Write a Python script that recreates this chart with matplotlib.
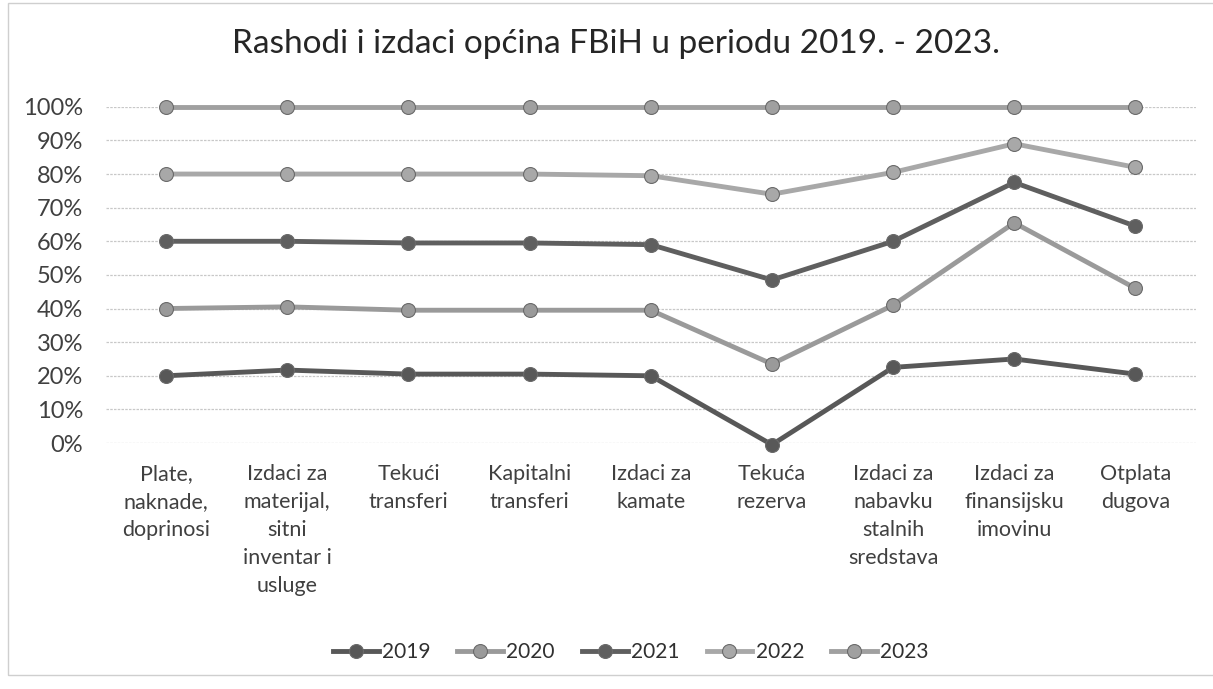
import numpy as np
import matplotlib.pyplot as plt
from matplotlib.patches import Rectangle
from matplotlib.ticker import PercentFormatter

plt.rcParams['font.family'] = ['Lato', 'DejaVu Sans']

# Categories (x axis)
categories = [
    "Plate,\nnaknade,\ndoprinosi",
    "Izdaci za\nmaterijal,\nsitni\ninventar i\nusluge",
    "Tekući\ntransferi",
    "Kapitalni\ntransferi",
    "Izdaci za\nkamate",
    "Tekuća\nrezerva",
    "Izdaci za\nnabavku\nstalnih\nsredstava",
    "Izdaci za\nfinansijsku\nimovinu",
    "Otplata\ndugova",
]

years = ["2019", "2020", "2021", "2022", "2023"]

# Share of each year in the category total (%)
share_2019 = [20.0, 21.7, 20.5, 20.5, 20.0, -0.5, 22.5, 25.0, 20.5]
share_2020 = [20.0, 18.8, 19.0, 19.0, 19.5, 24.0, 18.5, 40.5, 25.5]
share_2021 = [20.0, 19.5, 20.0, 20.0, 19.5, 25.0, 19.0, 12.0, 18.5]
share_2022 = [20.0, 20.0, 20.5, 20.5, 20.5, 25.5, 20.5, 11.5, 17.5]
share_2023 = [20.0, 20.0, 20.0, 20.0, 20.5, 26.0, 19.5, 11.0, 18.0]

colors = ["#585858", "#9a9a9a", "#5f5f5f", "#a8a8a8", "#a0a0a0"]

shares = np.array([share_2019, share_2020, share_2021, share_2022, share_2023])
stacked = np.cumsum(shares, axis=0) / 100.0

fig = plt.figure(figsize=(12.13, 6.89), dpi=100)
ax = fig.add_axes([0.087, 0.357, 0.899, 0.488])

x = np.arange(len(categories))
for i, year in enumerate(years):
    ax.plot(x, stacked[i], color=colors[i], lw=3.5, marker='o', ms=10,
            mec='#6a6a6a', mew=0.8, label=year, clip_on=False, zorder=3)

ax.set_xlim(-0.5, len(categories) - 0.5)
ax.set_ylim(0, 1)
ax.set_yticks(np.linspace(0, 1, 11))
ax.yaxis.set_major_formatter(PercentFormatter(1.0, decimals=0))
ax.grid(axis='y', color='#c8c8c8', lw=0.9, ls=(0, (2, 1)))
ax.set_axisbelow(True)
for s in ax.spines.values():
    s.set_visible(False)
ax.tick_params(axis='y', length=0, labelsize=17, colors='#404040', pad=16)

ax.set_xticks(x)
ax.set_xticklabels(categories, linespacing=1.5, va='top')
ax.tick_params(axis='x', length=0, labelsize=15.5, colors='#404040', pad=15)

fig.suptitle("Rashodi i izdaci općina FBiH u periodu 2019. - 2023.",
             fontsize=24, color='#262626', x=0.508, y=0.958)

fig.legend(loc='center', bbox_to_anchor=(0.52, 0.054), ncol=5, frameon=False,
           fontsize=15, handlelength=2.2, columnspacing=1.3, handletextpad=0.15,
           labelcolor='#303030')

# light outer frame of the scanned chart (right edge cut off in the scan)
fig.patches.append(Rectangle((0.007, 0.02), 1.1, 0.975, transform=fig.transFigure,
                             fill=False, ec='#cfcfcf', lw=1))

fig.savefig("out.png", dpi=100)
